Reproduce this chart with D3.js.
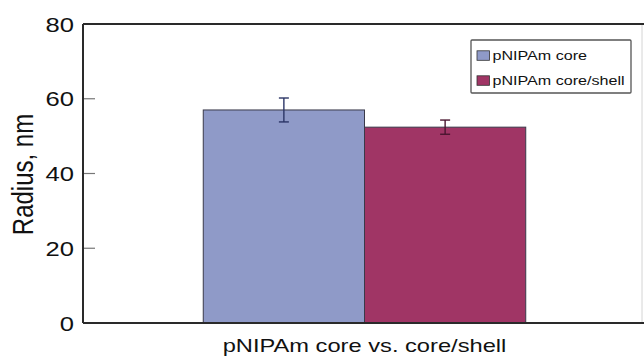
<!DOCTYPE html>
<html>
<head>
<meta charset="utf-8">
<script src="https://cdn.jsdelivr.net/npm/d3@7"></script>
<style>
  html, body { margin: 0; padding: 0; background: #fff; }
  svg { display: block; font-family: "Liberation Sans", Arial, sans-serif; }
</style>
</head>
<body>
<svg id="chart" width="644" height="357"></svg>
<script>
// Mean radius of the two particle types with standard-deviation error bars
const groupLabel = "pNIPAm core vs. core/shell";
const seriesNames = ["pNIPAm core", "pNIPAm core/shell"];
const radiusValues = [57.0, 52.4];
const radiusErrors = [3.2, 1.9];
const seriesColors = ["#8f9ac8", "#a03565"];
const errorColors = ["#2b3566", "#4a1630"];
const yTicks = [0, 20, 40, 60, 80];

// Text in this figure is set wide; widen glyphs horizontally
const WIDE = 1.28;

const svg = d3.select("#chart");
const margin = { left: 83, top: 24, right: 2, bottom: 34 };
const W = 644, H = 357;
const plotW = W - margin.left - margin.right;
const plotH = H - margin.top - margin.bottom;

const y = d3.scaleLinear().domain([0, 80]).range([plotH, 0]);
const xGroup = d3.scaleBand().domain([groupLabel]).range([2, plotW + 2]).paddingInner(0).paddingOuter(0.3667);
const xSeries = d3.scaleBand().domain(seriesNames).range([0, xGroup.bandwidth()]).padding(0);

const g = svg.append("g").attr("transform", `translate(${margin.left},${margin.top})`);

// Faint right edge of the plot frame
g.append("line").attr("x1", plotW).attr("x2", plotW).attr("y1", 0).attr("y2", plotH)
  .attr("stroke", "#d4d4d4").attr("stroke-width", 1);

// Bars
const bx = xGroup(groupLabel);
g.selectAll("rect.bar").data(seriesNames).join("rect")
  .attr("class", "bar")
  .attr("x", (d) => bx + xSeries(d))
  .attr("y", (d, i) => y(radiusValues[i]))
  .attr("width", xSeries.bandwidth())
  .attr("height", (d, i) => y(0) - y(radiusValues[i]))
  .attr("fill", (d, i) => seriesColors[i])
  .attr("stroke", "#3a3a4a")
  .attr("stroke-width", 1);

// Error bars
const capHalf = 5;
seriesNames.forEach((d, i) => {
  const cx = bx + xSeries(d) + xSeries.bandwidth() / 2;
  const top = y(radiusValues[i] + radiusErrors[i]);
  const bot = y(radiusValues[i] - radiusErrors[i]);
  const eg = g.append("g").attr("stroke", errorColors[i]).attr("stroke-width", 1.4);
  eg.append("line").attr("x1", cx).attr("x2", cx).attr("y1", top).attr("y2", bot);
  eg.append("line").attr("x1", cx - capHalf).attr("x2", cx + capHalf).attr("y1", top).attr("y2", top);
  eg.append("line").attr("x1", cx - capHalf).attr("x2", cx + capHalf).attr("y1", bot).attr("y2", bot);
});

// Y axis tick labels (outside) and short ticks (inside the frame)
const yAxis = d3.axisLeft(y).tickValues(yTicks).tickSize(0).tickFormat(d3.format("d"));
const ya = g.append("g").call(yAxis);
ya.select(".domain").remove();
ya.selectAll(".tick text")
  .attr("x", null).attr("dy", null)
  .attr("text-anchor", "end")
  .attr("transform", `translate(-9,7) scale(${WIDE},1)`)
  .attr("font-size", 20).attr("fill", "#111")
  .style("font-family", "'Liberation Sans', Arial, sans-serif");
g.selectAll("line.ytick").data(yTicks.filter((t) => t > 0 && t < 80)).join("line")
  .attr("class", "ytick")
  .attr("x1", 0).attr("x2", 12)
  .attr("y1", (d) => y(d)).attr("y2", (d) => y(d))
  .attr("stroke", "#777").attr("stroke-width", 1.2);

// Frame lines
const frame = g.append("g").attr("stroke", "#2a2a2a").attr("stroke-width", 2);
frame.append("line").attr("x1", 0).attr("x2", 0).attr("y1", 0).attr("y2", plotH);
frame.append("line").attr("x1", 0).attr("x2", W).attr("y1", 0).attr("y2", 0);
frame.append("line").attr("x1", 0).attr("x2", W).attr("y1", plotH).attr("y2", plotH);

// Axis titles
svg.append("text")
  .attr("transform", `translate(33,${margin.top + plotH / 2 + 1}) scale(1.2,1) rotate(-90)`)
  .attr("text-anchor", "middle")
  .attr("font-size", 24).attr("fill", "#111")
  .text("Radius, nm");

svg.append("text")
  .attr("transform", `translate(${margin.left + bx + xGroup.bandwidth() / 2},351.5) scale(${WIDE},1)`)
  .attr("text-anchor", "middle")
  .attr("font-size", 18.5).attr("fill", "#111")
  .text(groupLabel);

// Legend
const legend = svg.append("g").attr("transform", "translate(471,40)");
legend.append("rect").attr("x", 0).attr("y", 0).attr("width", 160).attr("height", 53)
  .attr("fill", "#fff").attr("stroke", "#555").attr("stroke-width", 1.3).attr("rx", 1);
seriesNames.forEach((name, i) => {
  const row = legend.append("g").attr("transform", `translate(6,${15.5 + i * 25})`);
  row.append("rect").attr("x", 0).attr("y", -4.7).attr("width", 12.5).attr("height", 9.5)
    .attr("fill", seriesColors[i]).attr("stroke", "#333").attr("stroke-width", 0.8);
  row.append("text").attr("transform", `translate(15.5,4.5) scale(1.24,1)`)
    .attr("font-size", 13).attr("fill", "#111").text(name);
});
</script>
</body>
</html>
